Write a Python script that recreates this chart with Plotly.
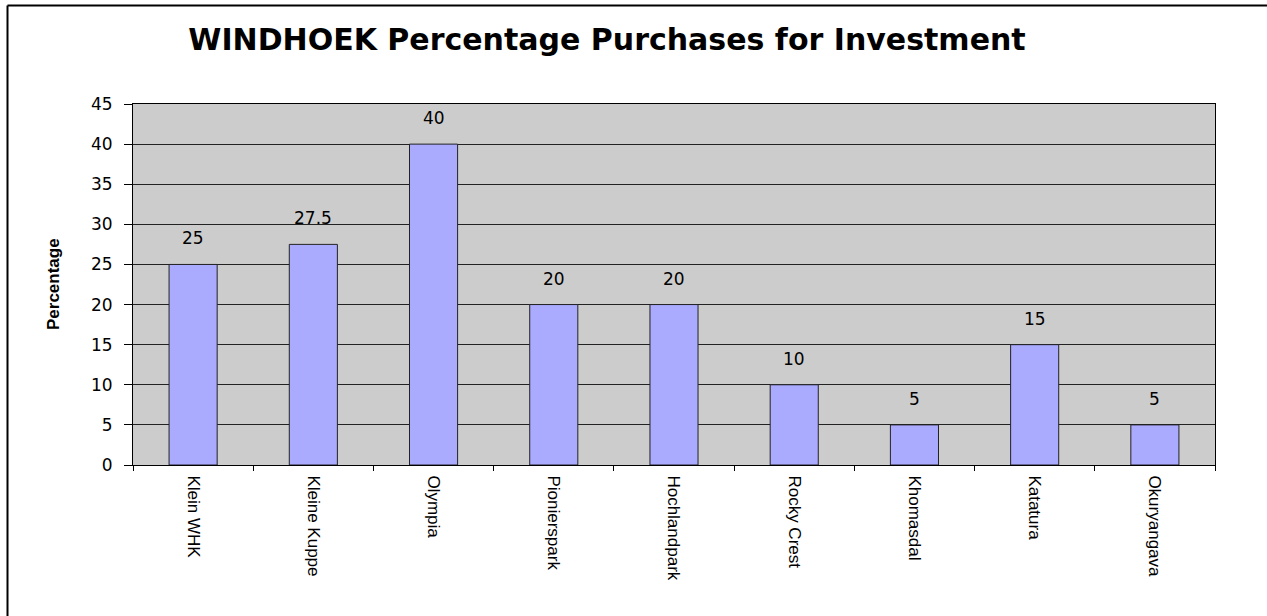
import plotly.graph_objects as go

# Suburbs and share of purchases made for investment (%)
suburbs = ["Klein WHK", "Kleine Kuppe", "Olympia", "Pionierspark", "Hochlandpark",
           "Rocky Crest", "Khomasdal", "Katatura", "Okuryangava"]
investment_pct = [25, 27.5, 40, 20, 20, 10, 5, 15, 5]
y_ticks = [0, 5, 10, 15, 20, 25, 30, 35, 40, 45]

W, H = 1267, 616
M_L, M_R, M_T, M_B = 133, 52, 104, 151
PW, PH = W - M_L - M_R, H - M_T - M_B


def px_x(x):
    return (x - M_L) / PW


def px_y(y):
    return (H - M_B - y) / PH


fig = go.Figure(
    go.Bar(
        x=suburbs,
        y=investment_pct,
        width=0.4,
        marker=dict(color="#AAAAFF", line=dict(color="#222222", width=1)),
        hoverinfo="x+y",
    )
)

# value labels above each bar
for name, val in zip(suburbs, investment_pct):
    fig.add_annotation(
        x=name, y=val, text=f"{val:g}", showarrow=False,
        yshift=26, yanchor="middle",
        font=dict(family="DejaVu Sans", size=17, color="#000000"),
    )

# y-axis title
fig.add_annotation(
    xref="paper", yref="paper", x=px_x(53), y=px_y(284),
    text="<b>Percentage</b>", textangle=-90, showarrow=False,
    xanchor="center", yanchor="middle",
    font=dict(family="Liberation Sans", size=17, color="#000000"),
)

# chart frame (left and top edges)
fig.add_shape(type="line", xref="paper", yref="paper",
              x0=px_x(7.5), x1=px_x(7.5), y0=px_y(5.5), y1=px_y(H + 2),
              line=dict(color="#000000", width=2))
fig.add_shape(type="line", xref="paper", yref="paper",
              x0=px_x(7.5), x1=px_x(W + 2), y0=px_y(5.5), y1=px_y(5.5),
              line=dict(color="#000000", width=2))

fig.update_layout(
    width=W, height=H, autosize=False,
    margin=dict(l=M_L, r=M_R, t=M_T, b=M_B),
    paper_bgcolor="#FFFFFF",
    plot_bgcolor="#CCCCCC",
    showlegend=False,
    title=dict(
        text="<b>WINDHOEK Percentage Purchases for Investment</b>",
        x=607 / W, xanchor="center",
        y=1 - 39 / H, yanchor="middle",
        font=dict(family="DejaVu Sans", size=30, color="#000000"),
    ),
    xaxis=dict(
        type="category",
        tickangle=90,
        tickson="boundaries",
        ticks="outside", ticklen=5, tickcolor="#000000",
        ticklabelstandoff=6,
        showgrid=False,
        showline=True, linecolor="#000000", linewidth=1, mirror=True,
        tickfont=dict(family="Liberation Sans", size=17, color="#000000"),
    ),
    yaxis=dict(
        range=[0, 45],
        tickvals=y_ticks,
        ticks="outside", ticklen=8, tickcolor="#000000",
        ticklabelstandoff=8,
        showgrid=True, gridcolor="#222222", gridwidth=1,
        showline=True, linecolor="#000000", linewidth=1, mirror=True,
        zeroline=False,
        tickfont=dict(family="DejaVu Sans", size=17, color="#000000"),
    ),
)

fig.write_html("out.html")
